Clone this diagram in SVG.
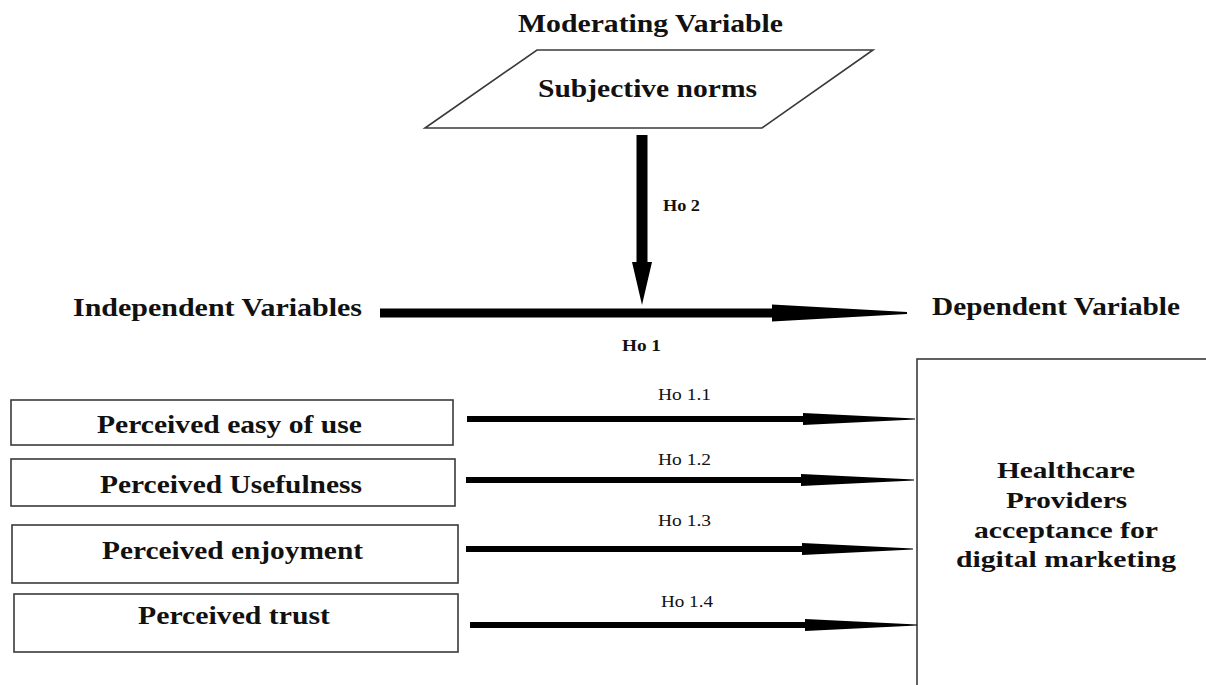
<svg xmlns="http://www.w3.org/2000/svg" width="1206" height="685" viewBox="0 0 1206 685">
  <style>
    .bg { fill: #ffffff; }
    .shape { fill: #ffffff; stroke: #3a3a3a; stroke-width: 1.6; }
    .arrow { fill: #000000; stroke: none; }
    .title { font-family: "Liberation Serif", "Times New Roman", serif; font-weight: bold; font-size: 26px; fill: #111111; }
    .label { font-family: "Liberation Serif", "Times New Roman", serif; font-weight: bold; font-size: 25px; fill: #111111; }
    .target { font-family: "Liberation Serif", "Times New Roman", serif; font-weight: bold; font-size: 23px; fill: #111111; }
    .hyp { font-family: "Liberation Serif", "Times New Roman", serif; font-weight: bold; font-size: 17px; fill: #111111; }
    .sub { font-family: "Liberation Serif", "Times New Roman", serif; font-size: 17px; fill: #111111; }
  </style>
  <rect class="bg" x="0" y="0" width="1206" height="685"/>

  <!-- section headings -->
  <text class="title" x="518" y="32" textLength="265" lengthAdjust="spacingAndGlyphs">Moderating Variable</text>
  <text class="label" x="73" y="316" textLength="289" lengthAdjust="spacingAndGlyphs">Independent Variables</text>
  <text class="label" x="932" y="315" textLength="248" lengthAdjust="spacingAndGlyphs">Dependent Variable</text>

  <!-- moderating variable -->
  <g id="subjective-norms">
    <polygon class="shape" points="537,50 873,50 762,128 425,128"/>
    <text class="title" x="538" y="97" textLength="219" lengthAdjust="spacingAndGlyphs">Subjective norms</text>
  </g>

  <!-- independent variables -->
  <g id="perceived-ease">
    <rect class="shape" x="11" y="400" width="442" height="45"/>
    <text class="label" x="97" y="433" textLength="265" lengthAdjust="spacingAndGlyphs">Perceived easy of use</text>
  </g>
  <g id="perceived-usefulness">
    <rect class="shape" x="11" y="459" width="444" height="47"/>
    <text class="label" x="100" y="493" textLength="262" lengthAdjust="spacingAndGlyphs">Perceived Usefulness</text>
  </g>
  <g id="perceived-enjoyment">
    <rect class="shape" x="12" y="525" width="446" height="58"/>
    <text class="label" x="102" y="559" textLength="261" lengthAdjust="spacingAndGlyphs">Perceived enjoyment</text>
  </g>
  <g id="perceived-trust">
    <rect class="shape" x="14" y="594" width="444" height="58"/>
    <text class="label" x="138" y="624" textLength="192" lengthAdjust="spacingAndGlyphs">Perceived trust</text>
  </g>

  <!-- dependent variable -->
  <g id="acceptance">
    <rect class="shape" x="917" y="359" width="300" height="340"/>
    <text class="target" x="997" y="478" textLength="138" lengthAdjust="spacingAndGlyphs">Healthcare</text>
    <text class="target" x="1006" y="508" textLength="121" lengthAdjust="spacingAndGlyphs">Providers</text>
    <text class="target" x="974" y="538" textLength="184" lengthAdjust="spacingAndGlyphs">acceptance for</text>
    <text class="target" x="956" y="567" textLength="220" lengthAdjust="spacingAndGlyphs">digital marketing</text>
  </g>

  <!-- hypothesis arrows -->
  <g id="connectors">
    <!-- Ho 2: moderator onto main path -->
    <path class="arrow" d="M636.5,135 H647.5 V262 H652 L642,305 L632,262 H636.5 Z"/>
    <text class="hyp" x="663" y="211" textLength="37" lengthAdjust="spacingAndGlyphs">Ho 2</text>

    <!-- Ho 1: main path -->
    <path class="arrow" d="M380,308.5 H772 V304.5 L907,312 L907,314 L772,321.5 V317.5 H380 Z"/>
    <text class="hyp" x="622" y="351" textLength="39" lengthAdjust="spacingAndGlyphs">Ho 1</text>

    <!-- Ho 1.1 to Ho 1.4 -->
    <path class="arrow" d="M467,416 H803 V413 L915,418.5 V419.5 L803,425 V422 H467 Z"/>
    <text class="sub" x="658" y="400" textLength="53" lengthAdjust="spacingAndGlyphs">Ho 1.1</text>

    <path class="arrow" d="M466,477 H801 V474 L914,479.5 V480.5 L801,486 V483 H466 Z"/>
    <text class="sub" x="658" y="465" textLength="53" lengthAdjust="spacingAndGlyphs">Ho 1.2</text>

    <path class="arrow" d="M466,546 H802 V543 L913,548.5 V549.5 L802,555 V552 H466 Z"/>
    <text class="sub" x="658" y="526" textLength="53" lengthAdjust="spacingAndGlyphs">Ho 1.3</text>

    <path class="arrow" d="M470,622 H805 V619 L917,624.5 V625.5 L805,631 V628 H470 Z"/>
    <text class="sub" x="661" y="607" textLength="52" lengthAdjust="spacingAndGlyphs">Ho 1.4</text>
  </g>
</svg>
